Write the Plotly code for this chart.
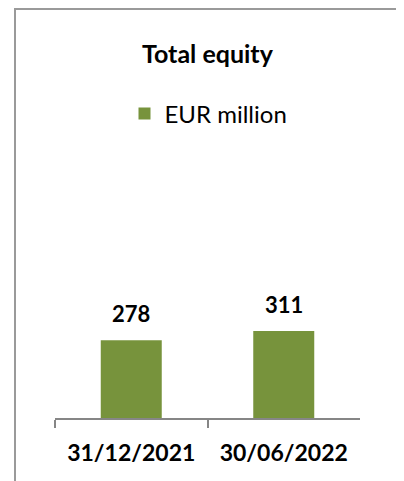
import plotly.graph_objects as go

categories = ["31/12/2021", "30/06/2022"]
values = [278, 311]
series_name = "EUR million"
title_text = "Total equity"

# page body has an 8px default margin, so the figure is 8px smaller
W, H = 396, 473
FONT = "Lato"
GREEN = "#77933C"
AXIS_GRAY = "#868686"

fig = go.Figure()
fig.add_trace(go.Bar(
    x=categories, y=values, name=series_name,
    marker=dict(color=GREEN, line=dict(width=0)),
    width=0.4, showlegend=True,
))

annotations = [
    dict(text="<b>%s</b>" % title_text, xref="paper", yref="paper",
         x=200 / W, y=1 - 45 / H, xanchor="center", yanchor="middle",
         showarrow=False, font=dict(family=FONT, size=25, color="black")),
]
for c, v in zip(categories, values):
    annotations.append(dict(text="<b>%d</b>" % v, x=c, y=v, xref="x", yref="y",
                            xanchor="center", yanchor="bottom", yshift=11,
                            showarrow=False,
                            font=dict(family=FONT, size=22, color="black")))

fig.update_layout(
    width=W, height=H, autosize=False,
    margin=dict(l=0, r=0, t=0, b=0, pad=0),
    paper_bgcolor="white", plot_bgcolor="white",
    font=dict(family=FONT, color="black"),
    annotations=annotations,
    showlegend=True,
    legend=dict(orientation="h", x=116.5 / W, y=1 - 106 / H, xanchor="left",
                yanchor="middle", font=dict(family=FONT, size=24, color="black"),
                bgcolor="rgba(0,0,0,0)", itemsizing="constant"),
    xaxis=dict(domain=[47 / W, 352 / W], range=[-0.5, 1.5], type="category",
               showline=True, linecolor=AXIS_GRAY, linewidth=1.5,
               ticks="outside", tickson="boundaries", ticklen=8,
               tickcolor=AXIS_GRAY, tickwidth=1.5, showgrid=False,
               tickfont=dict(family=FONT, size=23, color="black"),
               ticklabelstandoff=14, fixedrange=True),
    yaxis=dict(domain=[(H - 410) / H, 1], range=[0, 1464], visible=False,
               showgrid=False, zeroline=False, fixedrange=True),
    shapes=[dict(type="rect", xref="paper", yref="paper",
                 x0=7 / W, x1=1.2, y0=-0.2, y1=1 - 1 / H,
                 line=dict(color="#9a9a9a", width=2), layer="above")],
)
fig.update_xaxes(tickprefix="<b>", ticksuffix="</b>")

fig.write_html("out.html")
